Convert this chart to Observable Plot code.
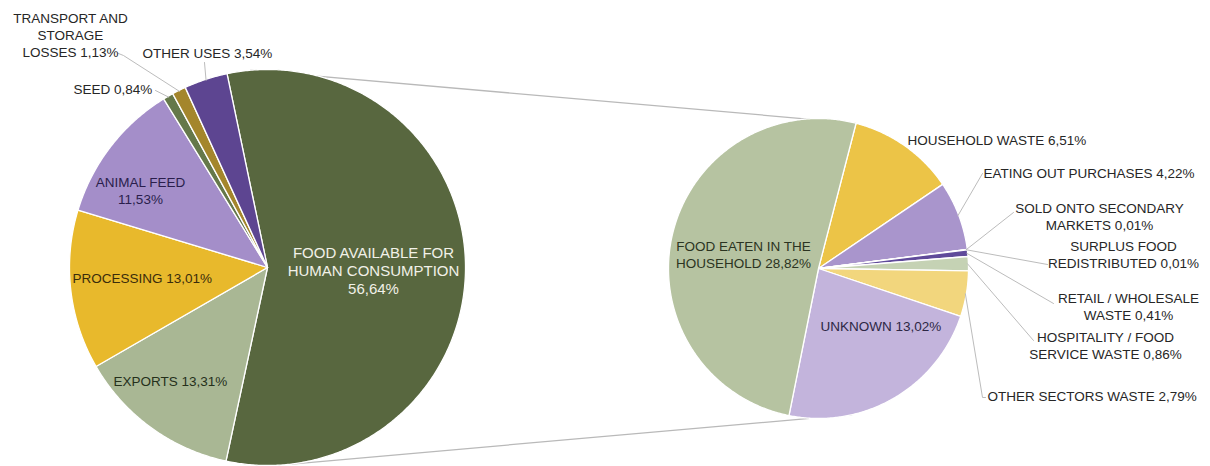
<!DOCTYPE html>
<html><head><meta charset="utf-8">
<script src="https://cdn.jsdelivr.net/npm/d3@7"></script>
<script src="https://cdn.jsdelivr.net/npm/@observablehq/plot@0.6"></script>
<style>body{margin:0;background:#fff} #chart svg{display:block}</style>
</head><body><div id="chart"></div>
<script>
// ---- data ----
const mainCategories = ["FOOD AVAILABLE FOR HUMAN CONSUMPTION", "EXPORTS", "PROCESSING", "ANIMAL FEED", "SEED", "TRANSPORT AND STORAGE LOSSES", "OTHER USES"];
const mainValues = [56.64, 13.31, 13.01, 11.53, 0.84, 1.13, 3.54];
const subCategories = ["HOUSEHOLD WASTE", "EATING OUT PURCHASES", "SOLD ONTO SECONDARY MARKETS", "SURPLUS FOOD REDISTRIBUTED", "RETAIL / WHOLESALE WASTE", "HOSPITALITY / FOOD SERVICE WASTE", "OTHER SECTORS WASTE", "UNKNOWN", "FOOD EATEN IN THE HOUSEHOLD"];
const subValues = [6.51, 4.22, 0.01, 0.01, 0.41, 0.86, 2.79, 13.02, 28.82];

// ---- styles ----
const mainColors = ["#58673f", "#a9b794", "#e8b92c", "#a48ec9", "#65784a", "#a4862c", "#5d4591"];
const subColors = ["#ecc447", "#a995cc", "#e9c14a", "#b9c6a6", "#5f4a9a", "#c5d2b4", "#f2d67d", "#c3b4dc", "#b6c3a1"];

// ---- layout ----
const W = 1210, H = 466;
const mainPie = {cx: 267, cy: 267, r: 198, start: -11.8};
const subPie = {cx: 818, cy: 268, r: 150, start: 14.5};
const rad = d => d * Math.PI / 180;

// label layout per category: position, anchor, word breaks, colour, leader start
const mainLayout = [
  {x: 373, y: 270, anchor: "middle", breaks: [3, 5], fill: "#f1f1e8", size: 15},
  {x: 113, y: 380, anchor: "start", breaks: [], fill: "#25301b"},
  {x: 72, y: 277, anchor: "start", breaks: [], fill: "#3a2c0b"},
  {x: 140, y: 190, anchor: "middle", breaks: [2], fill: "#2a1e4c"},
  {x: 73, y: 88, anchor: "start", breaks: [], fill: "#262626", leader: [[155, 90]]},
  {x: 70, y: 34, anchor: "middle", breaks: [2, 3], fill: "#262626", leader: [[118, 53], [123, 55]]},
  {x: 142, y: 52, anchor: "start", breaks: [], fill: "#262626", leader: [[204, 62]]}
];
const subLayout = [
  {x: 907, y: 139, anchor: "start", breaks: [], fill: "#262626"},
  {x: 983, y: 172, anchor: "start", breaks: [], fill: "#262626", leader: [[982, 173]]},
  {x: 1099, y: 215.5, anchor: "middle", breaks: [3], fill: "#262626", leader: [[1013, 212]]},
  {x: 1123, y: 253.5, anchor: "middle", breaks: [2], fill: "#262626", leader: [[1047, 264]]},
  {x: 1128, y: 306, anchor: "middle", breaks: [3], fill: "#262626", leader: [[1053, 303]]},
  {x: 1105, y: 345, anchor: "middle", breaks: [3], fill: "#262626", leader: [[1033, 340]]},
  {x: 987, y: 395, anchor: "start", breaks: [], fill: "#262626", leader: [[985, 397], [982, 397]]},
  {x: 820, y: 325, anchor: "start", breaks: [], fill: "#2d2744"},
  {x: 743, y: 253.5, anchor: "middle", breaks: [4], fill: "#2b3421"}
];

const fmt = v => d3.format(".2f")(v).replace(".", ",") + "%";
function wrap(text, breaks) {
  const words = text.split(" ");
  const lines = [];
  let prev = 0;
  for (const b of [...breaks, words.length]) { lines.push(words.slice(prev, b).join(" ")); prev = b; }
  return lines.join("\n");
}
const pt = (p, a, r = p.r) => ({x: p.cx + r * Math.sin(a), y: p.cy - r * Math.cos(a)});

function buildPie(p, cats, vals, colors, layout, prefix) {
  const arcs = d3.pie().sort(null).value(d => d).startAngle(rad(p.start)).endAngle(rad(p.start) + 2 * Math.PI)(vals);
  const pts = [], leaders = [], labels = [];
  arcs.forEach((a, i) => {
    const key = prefix + i;
    pts.push({key, color: colors[i], x: p.cx, y: p.cy});
    const n = Math.max(2, Math.ceil((a.endAngle - a.startAngle) / rad(0.5)));
    for (let k = 0; k <= n; k++) {
      const t = a.startAngle + (a.endAngle - a.startAngle) * k / n;
      pts.push({key, color: colors[i], ...pt(p, t)});
    }
    const L = layout[i];
    labels.push({...L, text: wrap(cats[i] + " " + fmt(vals[i]), L.breaks)});
    if (L.leader) {
      L.leader.forEach(([x, y]) => leaders.push({key, x, y}));
      leaders.push({key, ...pt(p, (a.startAngle + a.endAngle) / 2, p.r - 1)});
    }
  });
  return {arcs, pts, leaders, labels};
}

const M = buildPie(mainPie, mainCategories, mainValues, mainColors, mainLayout, "m");
const S = buildPie(subPie, subCategories, subValues, subColors, subLayout, "s");

// connector lines between the primary slice and the secondary pie
const connectors = [
  {...(() => { const a = pt(mainPie, rad(-5)); const b = pt(subPie, rad(14.5)); return {x1: a.x, y1: a.y, x2: b.x, y2: b.y}; })()},
  {...(() => { const a = pt(mainPie, rad(173)); const b = pt(subPie, rad(167)); return {x1: a.x, y1: a.y, x2: b.x, y2: b.y}; })()}
];

const labels = [...M.labels, ...S.labels];
const font = "'Liberation Sans', Arial, Helvetica, sans-serif";

const chart = Plot.plot({
  width: W, height: H, margin: 0,
  x: {domain: [0, W], range: [0, W], axis: null},
  y: {domain: [0, H], range: [0, H], axis: null},
  color: {type: "identity"},
  style: {fontFamily: font, background: "white", overflow: "hidden"},
  marks: [
    Plot.link(connectors, {x1: "x1", y1: "y1", x2: "x2", y2: "y2", stroke: "#b9b9b9", strokeWidth: 1.3}),
    Plot.line([...M.pts, ...S.pts], {x: "x", y: "y", z: "key", fill: "color", stroke: "white", strokeWidth: 1.3, curve: "linear-closed"}),
    Plot.line([...M.leaders, ...S.leaders], {x: "x", y: "y", z: "key", stroke: "#bcbcbc", strokeWidth: 1}),
    Plot.text(labels.filter(d => d.anchor === "start" && !d.size), {x: "x", y: "y", text: "text", fill: "fill", textAnchor: "start", fontSize: 13.5, lineHeight: 1.25}),
    Plot.text(labels.filter(d => d.anchor === "middle" && !d.size), {x: "x", y: "y", text: "text", fill: "fill", textAnchor: "middle", fontSize: 13.5, lineHeight: 1.25}),
    Plot.text(labels.filter(d => d.size), {x: "x", y: "y", text: "text", fill: "fill", textAnchor: "middle", fontSize: 15, lineHeight: 1.2})
  ]
});
document.getElementById("chart").append(chart);
</script>
</body></html>
